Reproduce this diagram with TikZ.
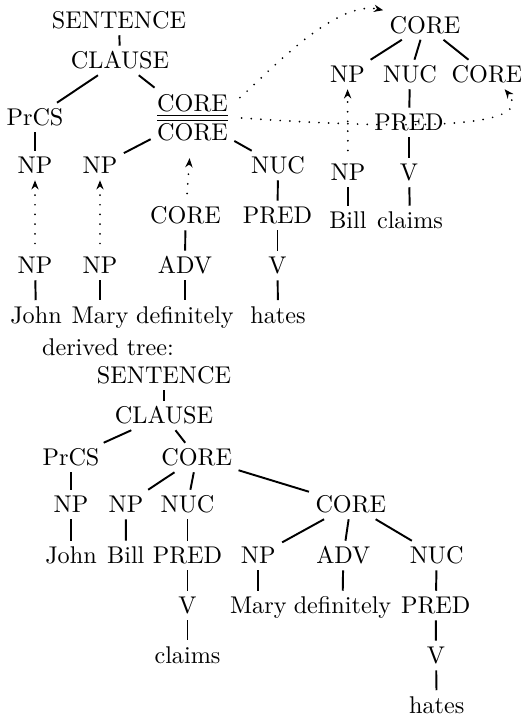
\documentclass[tikz,border=0pt]{standalone}
\usetikzlibrary{arrows.meta}

\tikzset{
  word/.style={inner sep=2.5pt, text height=6.8pt, text depth=0pt},
  stack/.style={inner sep=2.5pt, align=center},
  branch/.style={line width=0.8pt},
  link/.style={-{Stealth[length=3.8pt, width=3pt]}, line width=0.8pt, line cap=round, dash pattern=on 0pt off 4pt, shorten <=3pt}
}

\begin{document}
\begin{tikzpicture}[x=0.4132pt, y=-0.4132pt]
\useasboundingbox (0,0) rectangle (520,718);

% elementary trees
\node[word] (sent1) at (119,20.5) {SENTENCE};
\node[word] (clause1) at (120,60.5) {CLAUSE};
\node[word] (prcs1) at (35,117.5) {PrCS};
\node[stack] (coreC) at (192.5,117.5) {\underline{\underline{CORE}}\\CORE};
\node[word] (np1) at (35,165.5) {NP};
\node[word] (np2) at (100,165.5) {NP};
\node[word] (nuc1) at (278,165.5) {NUC};
\node[word] (core2) at (185.5,215.5) {CORE};
\node[word] (pred1) at (277.5,215.5) {PRED};
\node[word] (np3) at (35,265.5) {NP};
\node[word] (np4) at (100,265.5) {NP};
\node[word] (adv1) at (185,265.5) {ADV};
\node[word] (v1) at (277.5,265.5) {V};
\node[word] (john1) at (36,315) {John};
\node[word] (mary1) at (100,315) {Mary};
\node[word] (def1) at (185,315) {definitely};
\node[word] (hates1) at (278,315) {hates};

\node[word] (tcore) at (425,25) {CORE};
\node[word] (np5) at (347.5,74.5) {NP};
\node[word] (nuc2) at (410,74.5) {NUC};
\node[word] (rcore) at (487,74.5) {CORE};
\node[word] (pred2) at (409,122.5) {PRED};
\node[word] (np6) at (348,172.5) {NP};
\node[word] (v2) at (409,172.5) {V};
\node[word] (bill1) at (348,220.5) {Bill};
\node[word] (claims1) at (410,220.5) {claims};

\draw[branch] (sent1) -- (clause1);
\draw[branch] (clause1) -- (prcs1);
\draw[branch] (clause1) -- (coreC);
\draw[branch] (prcs1) -- (np1);
\draw[branch] (coreC) -- (np2);
\draw[branch] (coreC) -- (nuc1);
\draw[branch] (nuc1) -- (pred1);
\draw[branch] (pred1) -- (v1);
\draw[branch] (v1) -- (hates1);
\draw[branch] (core2) -- (adv1);
\draw[branch] (adv1) -- (def1);
\draw[branch] (np3) -- (john1);
\draw[branch] (np4) -- (mary1);
\draw[branch] (tcore) -- (np5);
\draw[branch] (tcore) -- (nuc2);
\draw[branch] (tcore) -- (rcore);
\draw[branch] (nuc2) -- (pred2);
\draw[branch] (pred2) -- (v2);
\draw[branch] (v2) -- (claims1);
\draw[branch] (np6) -- (bill1);

% substitution and adjunction
\draw[link] (np3) -- (np1);
\draw[link] (np4) -- (np2);
\draw[link, shorten >=4.5pt] (core2) -- (coreC);
\draw[link] (np6) -- (np5);
\draw[link] (coreC.20) .. controls +(40:16pt) and +(168:21pt) .. (tcore.north west);
\draw[link] (coreC.east) .. controls +(-4:100pt) and +(-50:16pt) .. (rcore.-40);

% derived tree
\node[word] (derived) at (108,346.8) {derived tree:};
\node[word] (sent2) at (164,375.5) {SENTENCE};
\node[word] (clause2) at (164,415.5) {CLAUSE};
\node[word] (prcs2) at (71,457.5) {PrCS};
\node[word] (core3) at (196.7,457.5) {CORE};
\node[word] (np7) at (71,504.5) {NP};
\node[word] (np8) at (126,504.5) {NP};
\node[word] (nuc3) at (187.5,504.5) {NUC};
\node[word] (core4) at (350.8,504.5) {CORE};
\node[word] (john2) at (71,555.5) {John};
\node[word] (bill2) at (125.8,555.5) {Bill};
\node[word] (pred3) at (187.5,555.5) {PRED};
\node[word] (np9) at (258.3,555.5) {NP};
\node[word] (adv2) at (343.3,555.5) {ADV};
\node[word] (nuc4) at (436.7,555.5) {NUC};
\node[word] (v3) at (187.5,605.5) {V};
\node[word] (mary2) at (258.3,605.5) {Mary};
\node[word] (def2) at (342.5,605.5) {definitely};
\node[word] (pred4) at (435.8,605.5) {PRED};
\node[word] (claims2) at (187.5,655) {claims};
\node[word] (v4) at (436,655.5) {V};
\node[word] (hates2) at (436.7,705) {hates};

\draw[branch] (sent2) -- (clause2);
\draw[branch] (clause2) -- (prcs2);
\draw[branch] (clause2) -- (core3);
\draw[branch] (prcs2) -- (np7);
\draw[branch] (np7) -- (john2);
\draw[branch] (core3) -- (np8);
\draw[branch] (core3) -- (nuc3);
\draw[branch] (core3) -- (core4);
\draw[branch] (np8) -- (bill2);
\draw[branch] (nuc3) -- (pred3);
\draw[branch] (pred3) -- (v3);
\draw[branch] (v3) -- (claims2);
\draw[branch] (core4) -- (np9);
\draw[branch] (core4) -- (adv2);
\draw[branch] (core4) -- (nuc4);
\draw[branch] (np9) -- (mary2);
\draw[branch] (adv2) -- (def2);
\draw[branch] (nuc4) -- (pred4);
\draw[branch] (pred4) -- (v4);
\draw[branch] (v4) -- (hates2);
\end{tikzpicture}
\end{document}
